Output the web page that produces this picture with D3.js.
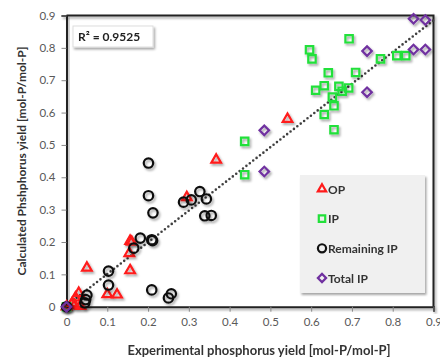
<!DOCTYPE html>
<html>
<head>
<meta charset="utf-8">
<script src="https://cdn.jsdelivr.net/npm/d3@7"></script>
<style>
  body { margin: 0; background: #fff; }
  svg { font-family: Lato, "Open Sans", sans-serif; }
</style>
</head>
<body>
<div id="chart"></div>
<script>
// values: [experimental, calculated]
var opPoints = [[0.000,0.000],[0.014,0.011],[0.022,0.028],[0.030,0.042],[0.034,0.002],[0.020,0.005],
  [0.050,0.120],[0.100,0.038],[0.124,0.037],[0.156,0.112],[0.154,0.165],[0.156,0.203],[0.160,0.200],
  [0.295,0.338],[0.367,0.454],[0.542,0.580]];
var ipPoints = [[0.000,0.000],[0.437,0.511],[0.437,0.408],[0.596,0.794],[0.602,0.766],[0.693,0.828],
  [0.642,0.723],[0.709,0.724],[0.770,0.766],[0.810,0.776],[0.832,0.776],[0.611,0.669],[0.632,0.683],
  [0.668,0.681],[0.692,0.676],[0.676,0.666],[0.652,0.648],[0.656,0.621],[0.632,0.594],[0.656,0.547]];
var remainingPoints = [[0.000,0.000],[0.045,0.012],[0.047,0.022],[0.050,0.036],[0.103,0.110],[0.103,0.067],
  [0.165,0.181],[0.181,0.212],[0.209,0.207],[0.211,0.204],[0.201,0.444],[0.201,0.343],[0.212,0.290],
  [0.209,0.052],[0.250,0.027],[0.257,0.040],[0.287,0.323],[0.306,0.330],[0.327,0.356],[0.343,0.333],
  [0.339,0.281],[0.355,0.282]];
var totalPoints = [[0.000,0.000],[0.485,0.545],[0.485,0.418],[0.737,0.790],[0.737,0.663],[0.851,0.890],
  [0.880,0.886],[0.851,0.795],[0.880,0.795]];
var seriesNames = ["OP", "IP", "Remaining IP", "Total IP"];
var tickValues = [0, 0.1, 0.2, 0.3, 0.4, 0.5, 0.6, 0.7, 0.8, 0.9];
var trend = {slope: 0.98, intercept: 0.003, r2: "0.9525"};

var svg = d3.select("#chart").append("svg")
  .attr("width", 440)
  .attr("height", 360);

// soft excel-like shadow
var defs = svg.append("defs");
var f = defs.append("filter").attr("id", "shadow")
  .attr("x", "-50%").attr("y", "-50%").attr("width", "200%").attr("height", "200%");
f.append("feDropShadow").attr("dx", 1.5).attr("dy", 2).attr("stdDeviation", 1.2)
  .attr("flood-color", "#000").attr("flood-opacity", 0.35);

var x = d3.scaleLinear().domain([0, 0.9]).range([66.5, 433.5]);
var y = d3.scaleLinear().domain([0, 0.9]).range([306.7, 15.5]);

// plot frame (top and right)
svg.append("path")
  .attr("d", "M" + x(0) + "," + y(0.9) + "H" + x(0.9) + "V" + y(0))
  .attr("fill", "none")
  .attr("stroke", "#222")
  .attr("stroke-width", 2)
  .attr("filter", "url(#shadow)");

// axes
var fmt = function(d) { return d === 0 ? "0" : d3.format(".1f")(d); };
var xAxis = svg.append("g")
  .attr("transform", "translate(0," + y(0) + ")")
  .call(d3.axisBottom(x).tickValues(tickValues).tickSize(5).tickPadding(6).tickFormat(fmt));
var yAxis = svg.append("g")
  .attr("transform", "translate(" + x(0) + ",0)")
  .call(d3.axisLeft(y).tickValues(tickValues).tickSize(5).tickPadding(6).tickFormat(fmt));

[xAxis, yAxis].forEach(function(g) {
  g.select(".domain").attr("stroke", "#222").attr("stroke-width", 2).attr("filter", "url(#shadow)");
  g.selectAll(".tick line").attr("stroke", "#888");
  g.selectAll(".tick text").attr("fill", "#595959").attr("font-size", 11.5)
    .attr("font-family", "Lato, sans-serif");
});

// trend line
svg.append("line")
  .attr("x1", x(0)).attr("y1", y(trend.intercept))
  .attr("x2", x(0.9)).attr("y2", y(trend.intercept + trend.slope * 0.9))
  .attr("stroke", "#404040")
  .attr("stroke-width", 2.6)
  .attr("stroke-linecap", "round")
  .attr("stroke-dasharray", "0 4.3");

// diamonds are squares turned 45 degrees
var symbols = [
  {type: d3.symbolTriangle, size: 40, color: "#ff1a1a", rot: 0, data: opPoints},
  {type: d3.symbolSquare, size: 55, color: "#22e03a", rot: 0, data: ipPoints},
  {type: d3.symbolCircle, size: 70, color: "#111", rot: 0, data: remainingPoints},
  {type: d3.symbolSquare, size: 45, color: "#7030a0", rot: 45, data: totalPoints}
];

symbols.forEach(function(s) {
  svg.append("g")
    .attr("filter", "url(#shadow)")
    .selectAll("path")
    .data(s.data)
    .enter()
    .append("path")
      .attr("transform", function(d) {
        return "translate(" + x(d[0]) + "," + y(d[1]) + ") rotate(" + s.rot + ")";
      })
      .attr("d", d3.symbol().type(s.type).size(s.size))
      .attr("fill", "none")
      .attr("stroke", s.color)
      .attr("stroke-width", 2.2);
});

// R squared box
var r2 = svg.append("g");
r2.append("rect")
  .attr("x", 73).attr("y", 26).attr("width", 80).attr("height", 21)
  .attr("fill", "#fff").attr("stroke", "#ddd")
  .attr("filter", "url(#shadow)");
r2.append("text")
  .attr("x", 78).attr("y", 41)
  .attr("font-size", 12).attr("font-weight", "bold").attr("fill", "#222")
  .text("R² = " + trend.r2);

// legend
var legend = svg.append("g");
legend.append("rect")
  .attr("x", 300).attr("y", 175).attr("width", 125).attr("height", 118)
  .attr("fill", "#f0f0f0")
  .attr("filter", "url(#shadow)");
var ly = d3.scalePoint().domain(seriesNames).range([189, 278]);
seriesNames.forEach(function(name, i) {
  legend.append("path")
    .attr("transform", "translate(322," + ly(name) + ") rotate(" + symbols[i].rot + ")")
    .attr("d", d3.symbol().type(symbols[i].type).size(symbols[i].size * 0.75))
    .attr("fill", "none")
    .attr("stroke", symbols[i].color)
    .attr("stroke-width", 2.2);
  legend.append("text")
    .attr("x", 328).attr("y", ly(name) + 4.5)
    .attr("font-size", 12).attr("font-weight", "bold").attr("fill", "#333")
    .text(name);
});

// axis titles
svg.append("text")
  .attr("x", 259).attr("y", 355)
  .attr("text-anchor", "middle")
  .attr("font-size", 13).attr("font-weight", "bold").attr("fill", "#333")
  .text("Experimental phosphorus yield [mol-P/mol-P]");
svg.append("text")
  .attr("transform", "translate(26,161) rotate(-90)")
  .attr("text-anchor", "middle")
  .attr("font-size", 12).attr("font-weight", "bold").attr("fill", "#333")
  .text("Calculated Phshphorus yield  [mol-P/mol-P]");
</script>
</body>
</html>
